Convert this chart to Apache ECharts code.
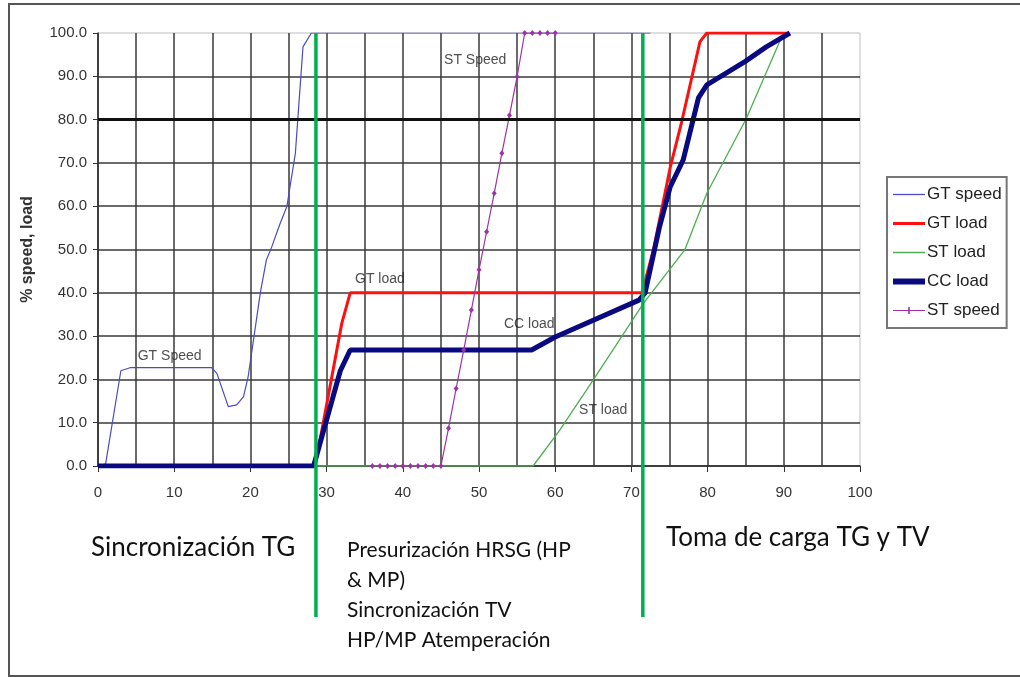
<!DOCTYPE html>
<html>
<head>
<meta charset="utf-8">
<script src="https://cdn.jsdelivr.net/npm/echarts@6/dist/echarts.min.js"></script>
<style>
  html, body { margin: 0; padding: 0; background: #fff; }
  #main { width: 1020px; height: 677px; }
</style>
</head>
<body>
<div id="main"></div>
<script>
// [time, %] pairs
const gtSpeed = [[0, 0], [1, 0.5], [3, 22], [4.2, 22.7], [14.9, 22.7], [15.6, 21.4], [17.1, 13.7],
  [18.2, 14.1], [19.1, 16], [19.7, 20.6], [20.4, 29], [21.3, 40], [22.1, 47.6], [22.8, 50.6],
  [23.9, 56], [24.8, 60], [25.2, 64.5], [25.9, 72.2], [26.9, 96.8], [28, 100], [72.5, 100]];
const gtLoad = [[28.5, 0], [32, 33], [33.1, 40], [71.4, 40], [72.9, 50], [75.1, 69], [76.6, 79.5],
  [79, 98], [79.9, 100], [90.5, 100]];
const stLoad = [[28.5, 0], [57.1, 0], [60.6, 8.3], [65, 19.9], [71.6, 37.6], [77, 49.9], [79.9, 63],
  [85.1, 80.3], [89.7, 99], [90.5, 100]];
const ccLoad = [[0, 0], [28.3, 0], [31.8, 22], [33.1, 26.8], [56.9, 26.8], [60, 29.8], [71, 38.3],
  [71.8, 40], [73.7, 55.3], [75.1, 64.5], [76.8, 70.7], [78.8, 85], [79.9, 88], [84.9, 93.4],
  [87.7, 96.8], [90.8, 100]];
const stSpeed = [[36, 0], [37, 0], [38, 0], [39, 0], [40, 0], [41, 0], [42, 0], [43, 0], [44, 0], [45, 0],
  [46, 8.7], [47, 17.9], [48, 26.8], [49, 36], [50, 45.3], [51, 54.1], [52, 63], [53, 72.2], [54, 81],
  [55, 89.9], [56, 100], [57, 100], [58, 100], [59, 100], [60, 100]];

// in-plot captions (data coords)
const notes = [
  { text: 'GT Speed', x: 9.4, y: 25.4 },
  { text: 'GT load', x: 37, y: 43.2 },
  { text: 'ST Speed', x: 49.5, y: 93.8 },
  { text: 'CC load', x: 56.6, y: 32.8 },
  { text: 'ST load', x: 66.3, y: 12.9 }
];
// phase boundaries (green lines)
const phaseX = [28.6, 71.5];

const myChart = echarts.init(document.getElementById('main'));

const lineDefaults = { type: 'line', symbol: 'none', smooth: false, z: 3 };
const hideSym = { opacity: 0 };
// line with a small tick in the middle, for the ST speed legend entry
const tickIcon = 'path://M0,6.4H32V7.6H0Z M15.2,3.5H16.8V10.5H15.2Z M0,0H0.01V14H0Z';

myChart.setOption({
  animation: false,
  backgroundColor: '#fff',
  grid: {
    left: 98, right: 160, top: 33, bottom: 211,
    show: true, borderColor: '#bdbdbd', borderWidth: 1
  },
  legend: {
    orient: 'vertical',
    left: 887, top: 177,
    padding: [9, 5, 9, 3],
    itemWidth: 32, itemHeight: 14, itemGap: 12,
    borderColor: '#777', borderWidth: 2, backgroundColor: '#fff',
    textStyle: { fontFamily: 'Liberation Sans', fontSize: 17, color: '#222', padding: [0, 0, 0, -3] },
    data: [
      { name: 'GT speed', itemStyle: hideSym, lineStyle: { width: 1.3 } },
      { name: 'GT load', itemStyle: hideSym, lineStyle: { width: 3 } },
      { name: 'ST load', itemStyle: hideSym, lineStyle: { width: 1.5 } },
      { name: 'CC load', itemStyle: hideSym, lineStyle: { width: 6 } },
      { name: 'ST speed', icon: tickIcon, itemStyle: { opacity: 1 } }
    ]
  },
  xAxis: {
    type: 'value', min: 0, max: 100, interval: 10,
    axisLine: { onZero: false, lineStyle: { color: '#333', width: 1.5 } },
    axisTick: { show: true, length: 6, lineStyle: { color: '#333' } },
    axisLabel: { margin: 19, fontFamily: 'Liberation Sans', fontSize: 15, color: '#333' },
    splitLine: { show: true, showMaxLine: false, lineStyle: { color: '#3a3a3a', width: 1.5 } },
    minorTick: { show: false, splitNumber: 2 },
    minorSplitLine: { show: true, lineStyle: { color: '#3a3a3a', width: 1.5 } }
  },
  yAxis: {
    type: 'value', min: 0, max: 100, interval: 10,
    name: '% speed, load', nameLocation: 'middle', nameGap: 62,
    nameTextStyle: { fontFamily: 'Liberation Sans', fontSize: 16, fontWeight: 'bold', color: '#333' },
    axisLine: { show: true, lineStyle: { color: '#333', width: 1.5 } },
    axisTick: { show: true, length: 5, lineStyle: { color: '#333' } },
    axisLabel: {
      margin: 11, fontFamily: 'Liberation Sans', fontSize: 15, color: '#333',
      formatter: v => v.toFixed(1)
    },
    splitLine: { show: true, showMaxLine: false, lineStyle: { color: '#3a3a3a', width: 1.5 } }
  },
  series: [
    Object.assign({}, lineDefaults, {
      name: 'GT speed', data: gtSpeed,
      lineStyle: { color: '#4b4bc0', width: 1.2 }, itemStyle: { color: '#4b4bc0' },
      markLine: {
        silent: true, symbol: 'none', label: { show: false },
        lineStyle: { color: '#111', width: 3, type: 'solid' },
        data: [{ yAxis: 80 }]
      }
    }),
    Object.assign({}, lineDefaults, {
      name: 'GT load', data: gtLoad,
      lineStyle: { color: '#ff1010', width: 3 }, itemStyle: { color: '#ff1010' }
    }),
    Object.assign({}, lineDefaults, {
      name: 'ST load', data: stLoad,
      lineStyle: { color: '#4caf50', width: 1.3 }, itemStyle: { color: '#4caf50' }
    }),
    Object.assign({}, lineDefaults, {
      name: 'CC load', data: ccLoad,
      lineStyle: { color: '#0a0a80', width: 5 }, itemStyle: { color: '#0a0a80' }
    }),
    {
      name: 'ST speed', type: 'line', data: stSpeed, z: 4,
      symbol: 'diamond', symbolSize: [5, 6], showSymbol: true,
      lineStyle: { color: '#a030a8', width: 1.2 }, itemStyle: { color: '#a030a8' }
    },
    {
      name: 'notes', type: 'scatter', symbolSize: 0, silent: true, z: 5,
      data: notes.map(n => ({ value: [n.x, n.y], name: n.text })),
      label: {
        show: true, position: 'inside', formatter: '{b}',
        fontFamily: 'Liberation Sans', fontSize: 14, color: '#222'
      }
    }
  ]
});

// green phase separators run from the top of the plot down through the caption area
const yTop = myChart.convertToPixel({ yAxisIndex: 0 }, 100);
const phaseLines = phaseX.map(x => {
  const px = myChart.convertToPixel({ xAxisIndex: 0 }, x);
  return {
    type: 'line', z: 100, silent: true,
    shape: { x1: px, y1: yTop, x2: px, y2: 617 },
    style: { stroke: '#00b050', lineWidth: 3.5 }
  };
});

const capFont = 'Lato';
myChart.setOption({
  graphic: phaseLines.concat([
    {
      type: 'rect', silent: true, z: 0,
      shape: { x: 9, y: 4, width: 1030, height: 672 },
      style: { fill: null, stroke: '#555', lineWidth: 2 }
    },
    {
      type: 'text', left: 91, top: 535, silent: true,
      style: { text: 'Sincronización TG', font: '26px ' + capFont, fill: '#111' }
    },
    {
      type: 'text', left: 347, top: 535, silent: true,
      style: {
        text: 'Presurización HRSG (HP\n& MP)\nSincronización TV\nHP/MP Atemperación',
        font: '21px ' + capFont, lineHeight: 30, fill: '#111'
      }
    },
    {
      type: 'text', left: 666, top: 525, silent: true,
      style: { text: 'Toma de carga TG y TV', font: '26px ' + capFont, fill: '#111' }
    }
  ])
});
</script>
</body>
</html>
